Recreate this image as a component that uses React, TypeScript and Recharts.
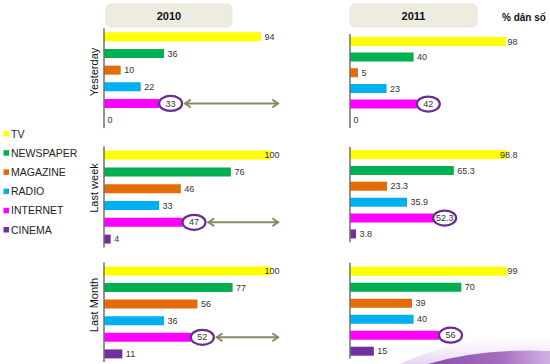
import React from "react";
import { BarChart, Bar, XAxis, YAxis, Cell, LabelList, ReferenceLine } from "recharts";

const media = ["TV", "NEWSPAPER", "MAGAZINE", "RADIO", "INTERNET", "CINEMA"];
const mediaColors = ["#FFFF00", "#00B050", "#E36C09", "#00B0F0", "#FF00FF", "#7030A0"];

const yesterday2010 = [94, 36, 10, 22, 33, 0];
const lastWeek2010 = [100, 76, 46, 33, 47, 4];
const lastMonth2010 = [100, 77, 56, 36, 52, 11];
const yesterday2011 = [98, 40, 5, 23, 42, 0];
const lastWeek2011 = [98.8, 65.3, 23.3, 35.9, 52.3, 3.8];
const lastMonth2011 = [99, 70, 39, 40, 56, 15];

const years = ["2010", "2011"];
const periods = ["Yesterday", "Last week", "Last Month"];
const unitLabel = "% dân số";

const W = 550;
const H = 364;
const FONT = "'Liberation Sans', Arial, sans-serif";

// layout of each small panel (plot area)
const panels = [
  { values: yesterday2010, axisX: 104, plotW: 167, top: 28.3, plotH: 100, arrowTo: 278 },
  { values: lastWeek2010, axisX: 104, plotW: 167, top: 146.6, plotH: 100.8, arrowTo: 278 },
  { values: lastMonth2010, axisX: 104, plotW: 167, top: 262.4, plotH: 99.6, arrowTo: 278 },
  { values: yesterday2011, axisX: 350, plotW: 159, top: 33.9, plotH: 94 },
  { values: lastWeek2011, axisX: 350, plotW: 159, top: 147.1, plotH: 95.2 },
  { values: lastMonth2011, axisX: 350, plotW: 159, top: 262.7, plotH: 96 },
];

const ARROW = "#8C8661";

// rough width of a 9px label, used to keep long labels inside the panel
const textWidth = (s: string) => s.replace(".", "").length * 5 + (s.includes(".") ? 2.5 : 0);

function makeLabel(plotRight: number, arrowTo?: number) {
  return (props: any) => {
    const { x, y, width, height, value, index } = props;
    const endX = Number(x) + (value === 0 ? 0 : Number(width));
    const cy = Number(y) + Number(height) / 2;
    if (index === 4) {
      const rx = 11.5;
      const cx = endX + rx;
      return (
        <g>
          <ellipse cx={cx} cy={cy} rx={rx} ry={7.5} fill="#fff" stroke="#6A2C91" strokeWidth={2.2} />
          <text x={cx} y={cy} dy="0.35em" textAnchor="middle" fontSize={9} fontFamily={FONT} fill="#333">
            {value}
          </text>
          {arrowTo !== undefined && (
            <g stroke={ARROW} strokeWidth={2} fill="none" strokeLinecap="round">
              <line x1={cx + rx + 3} y1={cy} x2={arrowTo} y2={cy} />
              <polyline points={`${cx + rx + 8},${cy - 3.5} ${cx + rx + 3},${cy} ${cx + rx + 8},${cy + 3.5}`} />
              <polyline points={`${arrowTo - 5},${cy - 3.5} ${arrowTo},${cy} ${arrowTo - 5},${cy + 3.5}`} />
            </g>
          )}
        </g>
      );
    }
    const label = String(value);
    const lx = Math.min(endX + 3.5, plotRight + 8.5 - textWidth(label));
    return (
      <text x={lx} y={cy} dy="0.35em" fontSize={9} fontFamily={FONT} fill="#333">
        {label}
      </text>
    );
  };
}

function Panel({ values, axisX, plotW, top, plotH, arrowTo }: any) {
  const data = media.map((name, i) => ({ name, value: values[i] }));
  return (
    <div style={{ position: "absolute", left: 0, top: 0 }}>
      <BarChart
        width={W}
        height={H}
        layout="vertical"
        data={data}
        margin={{ top, left: axisX, right: W - axisX - plotW, bottom: H - top - plotH }}
      >
        <XAxis type="number" domain={[0, 100]} hide />
        <YAxis type="category" dataKey="name" hide />
        <Bar dataKey="value" barSize={9} minPointSize={0.01} isAnimationActive={false}>
          {data.map((d, i) => (
            <Cell key={d.name} fill={mediaColors[i]} />
          ))}
          <LabelList dataKey="value" content={makeLabel(axisX + plotW, arrowTo)} />
        </Bar>
        <ReferenceLine x={0} stroke="#6f6f6f" strokeWidth={1.5} />
      </BarChart>
    </div>
  );
}

const headerBoxes = [
  { x: 106, w: 126 },
  { x: 350, w: 127 },
];
const rowLabelY = [72, 188, 305];

export default function App() {
  return (
    <div style={{ position: "absolute", left: 0, top: 0, width: W, height: H, background: "#fff", overflow: "hidden" }}>
      <svg width={W} height={H} style={{ position: "absolute", left: 0, top: 0 }}>
        <defs>
          <linearGradient id="swoosh" x1="0" y1="0" x2="1" y2="0">
            <stop offset="0" stopColor="#7B3FA0" stopOpacity={0.9} />
            <stop offset="0.6" stopColor="#9B59B6" stopOpacity={0.85} />
            <stop offset="1" stopColor="#C9A4E0" stopOpacity={0.8} />
          </linearGradient>
          <linearGradient id="swoosh2" x1="0" y1="0" x2="0" y2="1">
            <stop offset="0" stopColor="#F1E6F7" stopOpacity={0} />
            <stop offset="1" stopColor="#E6D3F0" stopOpacity={1} />
          </linearGradient>
        </defs>
        <path d="M 400 364 Q 470 330 550 338 L 550 364 Z" fill="url(#swoosh2)" />
        <path d="M 428 364 Q 480 348 550 351 L 550 364 Z" fill="url(#swoosh)" />
        {headerBoxes.map((b, i) => (
          <g key={years[i]}>
            <rect x={b.x} y={4} width={b.w} height={23} rx={5} fill="#EEECE1" stroke="#E2E0D6" strokeWidth={0.8} />
            <text x={b.x + b.w / 2} y={16} dy="0.35em" textAnchor="middle" fontSize={11} fontWeight="bold" fontFamily={FONT} fill="#111">
              {years[i]}
            </text>
          </g>
        ))}
        <text x={502} y={17} dy="0.35em" fontSize={10} fontWeight="bold" fontFamily={FONT} fill="#111">
          {unitLabel}
        </text>
        {periods.map((p, i) => (
          <text
            key={p}
            x={94}
            y={rowLabelY[i]}
            dy="0.35em"
            textAnchor="middle"
            transform={`rotate(-90 94 ${rowLabelY[i]})`}
            fontSize={11}
            fontFamily={FONT}
            fill="#111"
          >
            {p}
          </text>
        ))}
        {media.map((m, i) => (
          <g key={m}>
            <rect x={3.5} y={134 + i * 19.2 - 3} width={5.5} height={5.5} fill={mediaColors[i]} />
            <text x={11} y={134 + i * 19.2} dy="0.35em" fontSize={10.5} fontFamily={FONT} fill="#222">
              {m}
            </text>
          </g>
        ))}
      </svg>
      {panels.map((p, i) => (
        <Panel key={i} {...p} />
      ))}
    </div>
  );
}
